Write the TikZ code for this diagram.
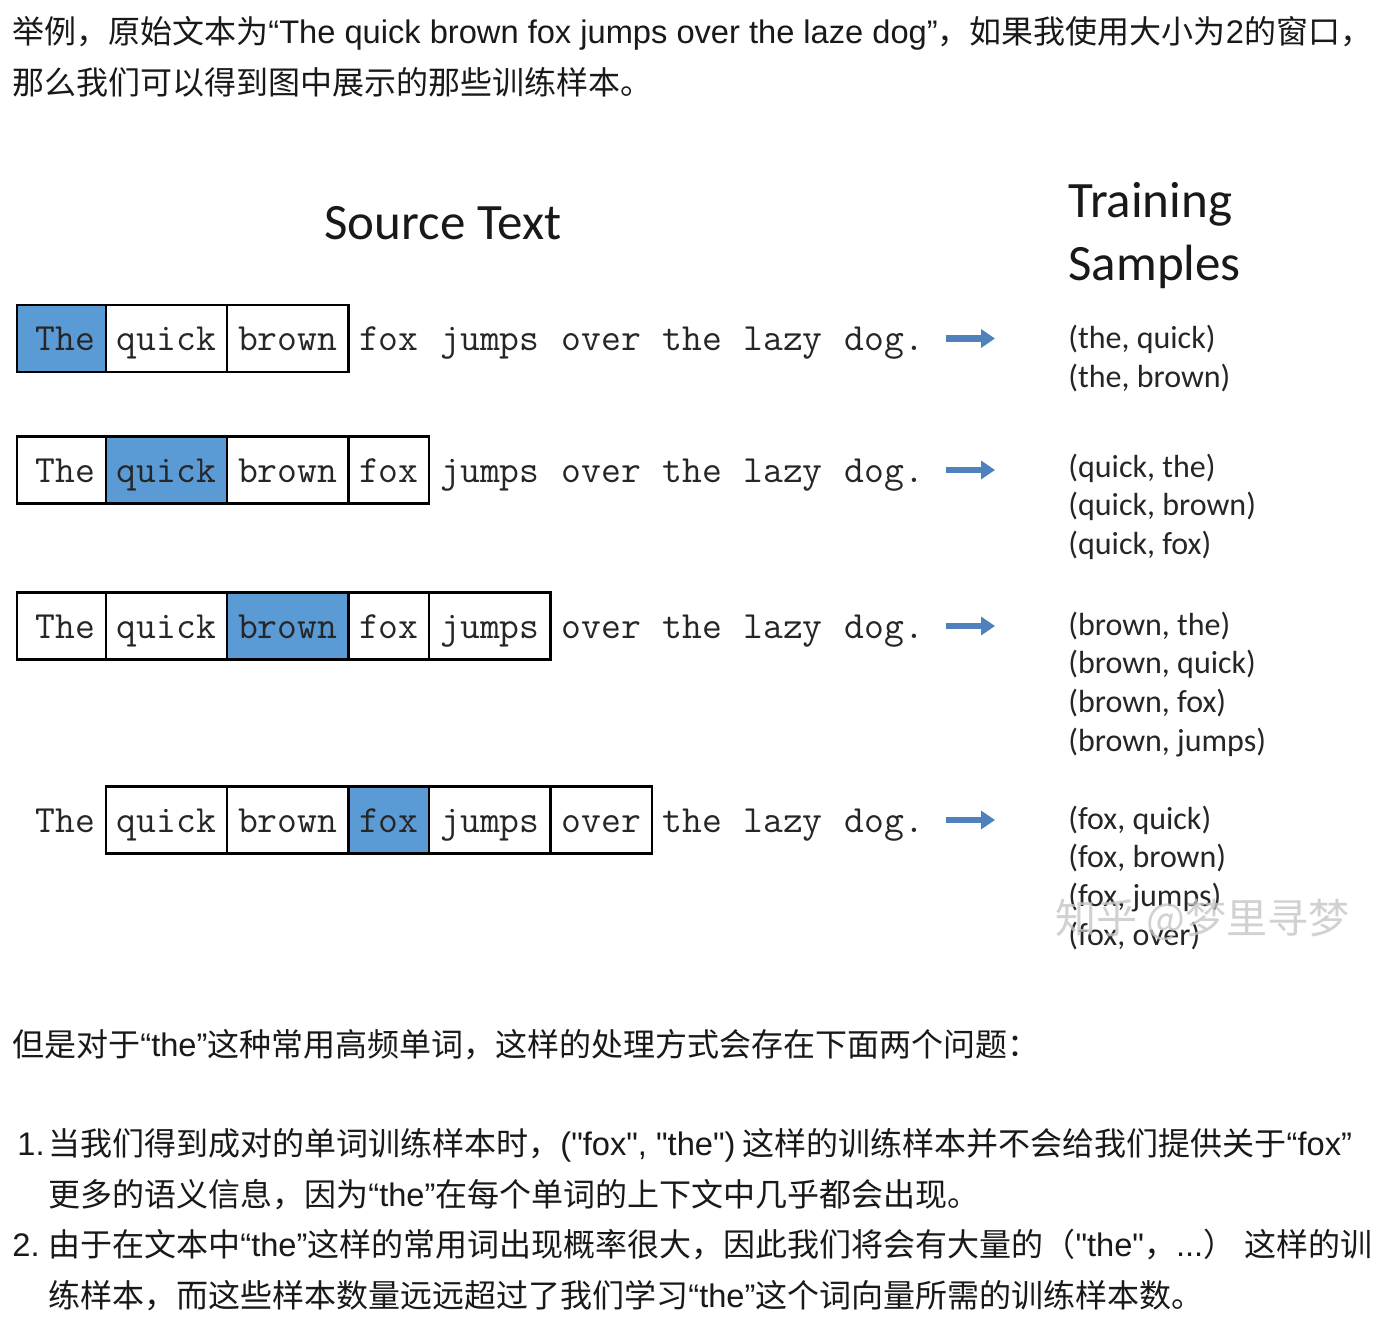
\documentclass[tikz,border=0pt]{standalone}
\usepackage{fontspec}
\setmainfont{Carlito}
\newfontfamily\cjk{Noto Sans CJK SC}
\newfontfamily\latin[Scale=1.02]{Liberation Sans}
\newcommand{\en}[1]{{\latin #1}}
\usetikzlibrary{arrows.meta}

\definecolor{wordblue}{HTML}{5B9BD5}
\definecolor{arrowblue}{HTML}{4F81BD}

\begin{document}
\begin{tikzpicture}[x=0.5pt, y=-0.5pt,
  word/.style={font=\ttfamily\fontsize{19.26}{23}\selectfont, text=black!85, inner sep=0pt,
    text height=15pt, text depth=3pt, minimum height=33.5pt, line width=1.2pt},
  wbox/.style={draw=black, fill=white},
  hlbox/.style={draw=black, fill=wordblue},
  samplearrow/.style={line width=3pt, draw=arrowblue, -{Triangle[length=7pt, width=9pt]}},
  sample/.style={font=\fontsize{16}{19}\selectfont, text=black!85, anchor=base west, inner sep=0pt},
  heading/.style={font=\fontsize{25.5}{30}\selectfont, text=black!90, inner sep=0pt},
  para/.style={font=\cjk\fontsize{16}{20}\selectfont, text=black!90, anchor=base west, inner sep=0pt}]

\fill[white] (0,0) rectangle (1374,1342);
\useasboundingbox (0,0) rectangle (1374,1342);

\node[para] (intro1) at (12,44) {举例，原始文本为\en{“The quick brown fox jumps over the laze dog”}，如果我使用大小为\en{2}的窗口，};
\node[para] (intro2) at (12,95) {那么我们可以得到图中展示的那些训练样本。};

\node[heading, anchor=base] (srchead) at (443,240) {Source Text};
\node[heading, anchor=base west] (trainhead) at (1068,218) {Training};
\node[heading, anchor=base west] (samplehead) at (1068,281) {Samples};

% one row per centre word, window of 2
\foreach \c/\y in {1/338.5, 2/470, 3/626, 4/820} {
  \foreach \w/\s/\n [count=\i] in {The/0/3, quick/4/5, brown/10/5, fox/16/3, jumps/20/5, over/26/4, the/31/3, lazy/35/4, dog./40/4} {
    \def\wext{0}\def\wpad{}%
    \ifnum\i=\c \def\wst{hlbox}%
    \else\ifnum\numexpr(\i-\c)*(\i-\c)\relax<5 \def\wst{wbox}\else\def\wst{}\fi\fi
    \ifnum\i=1 \ifx\wst\empty\else \def\wext{8}\def\wpad{\hspace*{4pt}}\fi\fi
    \node[word, \wst, minimum width={(\n+1)*10.11pt+\wext*0.5pt}] (r\c-\i)
      at ({35+20.22*(\s+\n/2)-\wext/2}, \y) {\wpad\w};
  }
  \draw[samplearrow] ([xshift=5pt]r\c-9.east) -- ([xshift=29.5pt]r\c-9.east);
}

\foreach \t [count=\j] in {{(the, quick)}, {(the, brown)}}
  \node[sample] (s1-\j) at (1068, {349+38.9*(\j-1)}) {\t};
\foreach \t [count=\j] in {{(quick, the)}, {(quick, brown)}, {(quick, fox)}}
  \node[sample] (s2-\j) at (1068, {477+38.9*(\j-1)}) {\t};
\foreach \t [count=\j] in {{(brown, the)}, {(brown, quick)}, {(brown, fox)}, {(brown, jumps)}}
  \node[sample] (s3-\j) at (1068, {635+38.9*(\j-1)}) {\t};
\foreach \t [count=\j] in {{(fox, quick)}, {(fox, brown)}, {(fox, jumps)}, {(fox, over)}}
  \node[sample] (s4-\j) at (1068, {829+38.9*(\j-1)}) {\t};

\node[font=\cjk\fontsize{20.5}{24}\selectfont, text=gray!45, opacity=0.8, anchor=base west, inner sep=0pt] (mark) at (1055,933) {知乎 @梦里寻梦};

\node[para] (issue) at (12,1056) {但是对于\en{“the”}这种常用高频单词，这样的处理方式会存在下面两个问题：};
\node[para] (num1) at (17,1155) {\en{1.}};
\node[para] (item1a) at (48,1155) {当我们得到成对的单词训练样本时，\en{("fox", "the")} 这样的训练样本并不会给我们提供关于\en{“fox”}};
\node[para] (item1b) at (48,1206) {更多的语义信息，因为\en{“the”}在每个单词的上下文中几乎都会出现。};
\node[para] (num2) at (12,1256) {\en{2.}};
\node[para] (item2a) at (48,1256) {由于在文本中\en{“the”}这样的常用词出现概率很大，因此我们将会有大量的（\en{"the"}，\en{...}） 这样的训};
\node[para] (item2b) at (48,1307) {练样本，而这些样本数量远远超过了我们学习\en{“the”}这个词向量所需的训练样本数。};

\end{tikzpicture}
\end{document}
